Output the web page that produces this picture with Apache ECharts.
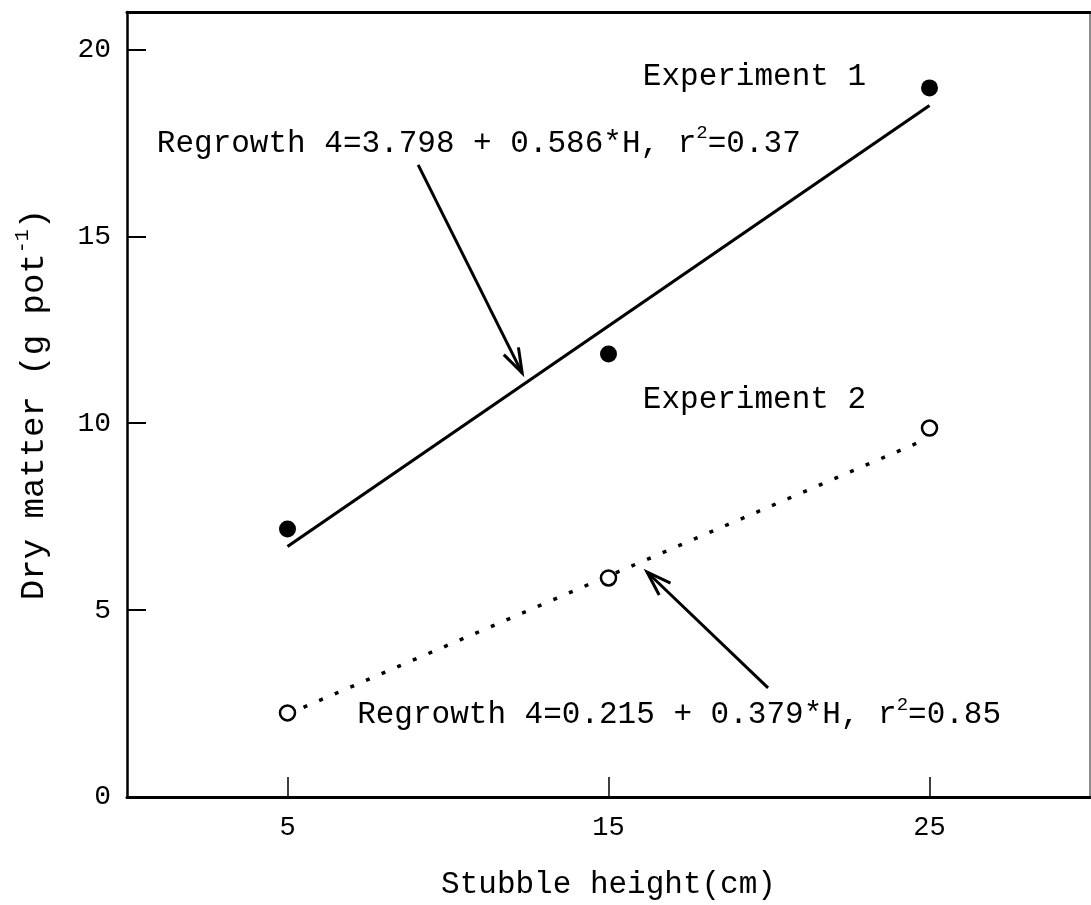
<!DOCTYPE html>
<html><head><meta charset="utf-8">
<script src="https://cdn.jsdelivr.net/npm/echarts@6/dist/echarts.min.js"></script>
<style>html,body{margin:0;padding:0;background:#fff}#c{width:1091px;height:905px}</style>
</head><body><div id="c"></div>
<script>
const FONT = 'Liberation Mono';
// tick values
const xTicks = [5, 15, 25];
const yTicks = [0, 5, 10, 15, 20];
// observed points
const exp1 = [[5, 7.17], [15, 11.85], [25, 18.97]];
const exp2 = [[5, 2.25], [15, 5.86], [25, 9.87]];
// fitted lines (endpoints)
const fit1 = [[5, 6.7], [25, 18.5]];
const fit2 = [[5.5, 2.4], [24.7, 9.5]];
// annotation texts and their anchors (data coords, left / middle)
const noteTexts = [
  '{n|Experiment 1}',
  '{n|Experiment 2}',
  '{n|Regrowth 4=3.798 + 0.586*H, r}{s|2}{n|=0.37}',
  '{n|Regrowth 4=0.215 + 0.379*H, r}{s|2}{n|=0.85}'
];
const noteAnchors = [[16.07, 19.26], [16.07, 10.62], [0.93, 17.47], [7.17, 2.19]];
// arrows: [x tail, y tail, x head, y head]
const arrows = [[9.07, 16.91, 12.31, 11.34], [19.97, 2.92, 16.2, 6.02]];

const richStyle = {
  n: { fontFamily: FONT, fontSize: 31, color: '#000', lineHeight: 40 },
  s: { fontFamily: FONT, fontSize: 19, color: '#000', lineHeight: 22, verticalAlign: 'top' }
};
const richName = {
  n: { fontFamily: FONT, fontSize: 34, color: '#000', lineHeight: 42 },
  s: { fontFamily: FONT, fontSize: 20, color: '#000', lineHeight: 22, verticalAlign: 'top' }
};

const chart = echarts.init(document.getElementById('c'), null, { renderer: 'canvas' });
chart.setOption({
  backgroundColor: '#fff',
  animation: false,
  grid: { left: 127, right: 1, top: 12, bottom: 108 },
  xAxis: [{
    type: 'value', min: 0, max: 30, position: 'bottom',
    name: 'Stubble height(cm)', nameLocation: 'middle', nameGap: 72,
    nameTextStyle: { fontFamily: FONT, fontSize: 31, color: '#000' },
    axisLine: { onZero: false, lineStyle: { color: '#000', width: 3 } },
    axisTick: { inside: true, length: 20, lineStyle: { color: '#000', width: 1.5 }, customValues: xTicks },
    axisLabel: { fontFamily: FONT, fontSize: 27, color: '#000', margin: 17, customValues: xTicks },
    splitLine: { show: false }
  }, {
    type: 'value', min: 0, max: 30, position: 'top',
    axisLine: { onZero: false, lineStyle: { color: '#000', width: 3 } },
    axisTick: { show: false }, axisLabel: { show: false }, splitLine: { show: false }
  }],
  yAxis: [{
    type: 'value', min: 0, max: 21, position: 'left',
    name: '{n|Dry matter (g pot}{s|-1}{n|)}', nameLocation: 'middle', nameGap: 72,
    nameTextStyle: { rich: richName },
    axisLine: { onZero: false, lineStyle: { color: '#000', width: 2.5 } },
    axisTick: { inside: true, length: 19, lineStyle: { color: '#000', width: 2 }, customValues: yTicks },
    axisLabel: { fontFamily: FONT, fontSize: 28, color: '#000', margin: 16, customValues: yTicks },
    splitLine: { show: false }
  }, {
    type: 'value', min: 0, max: 21, position: 'right',
    axisLine: { onZero: false, lineStyle: { color: '#666', width: 1.5 } },
    axisTick: { show: false }, axisLabel: { show: false }, splitLine: { show: false }
  }],
  series: [
    {
      type: 'line', data: fit1, symbol: 'none',
      lineStyle: { color: '#000', width: 3.2 }, z: 2
    },
    {
      type: 'line', data: fit2, symbol: 'none',
      lineStyle: { color: '#000', width: 3.5, type: [4, 13], cap: 'butt' }, z: 2
    },
    {
      type: 'scatter', data: exp1, symbol: 'circle', symbolSize: 17,
      itemStyle: { color: '#000', opacity: 1 }, z: 3
    },
    {
      type: 'scatter', data: exp2, symbol: 'circle', symbolSize: 15,
      itemStyle: { color: '#fff', borderColor: '#000', borderWidth: 2.5, opacity: 1 }, z: 3
    },
    {
      type: 'custom', data: arrows, z: 4,
      renderItem: function (params, api) {
        const p1 = api.coord([api.value(0), api.value(1)]);
        const p2 = api.coord([api.value(2), api.value(3)]);
        const ang = Math.atan2(p2[1] - p1[1], p2[0] - p1[0]);
        const L = 26, a = 0.32;
        const h1 = [p2[0] - L * Math.cos(ang - a), p2[1] - L * Math.sin(ang - a)];
        const h2 = [p2[0] - L * Math.cos(ang + a), p2[1] - L * Math.sin(ang + a)];
        return {
          type: 'group',
          children: [
            { type: 'line', shape: { x1: p1[0], y1: p1[1], x2: p2[0], y2: p2[1] },
              style: { stroke: '#000', lineWidth: 3 } },
            { type: 'polyline', shape: { points: [h1, p2, h2] },
              style: { stroke: '#000', lineWidth: 3, fill: null } }
          ]
        };
      }
    },
    {
      type: 'custom', data: noteAnchors.map(function (d, i) { return [d[0], d[1], i]; }), z: 5,
      renderItem: function (params, api) {
        const p = api.coord([api.value(0), api.value(1)]);
        return {
          type: 'text', x: p[0], y: p[1],
          style: {
            text: noteTexts[api.value(2)], rich: richStyle,
            align: 'left', verticalAlign: 'middle'
          }
        };
      }
    }
  ]
});
</script>
</body></html>
